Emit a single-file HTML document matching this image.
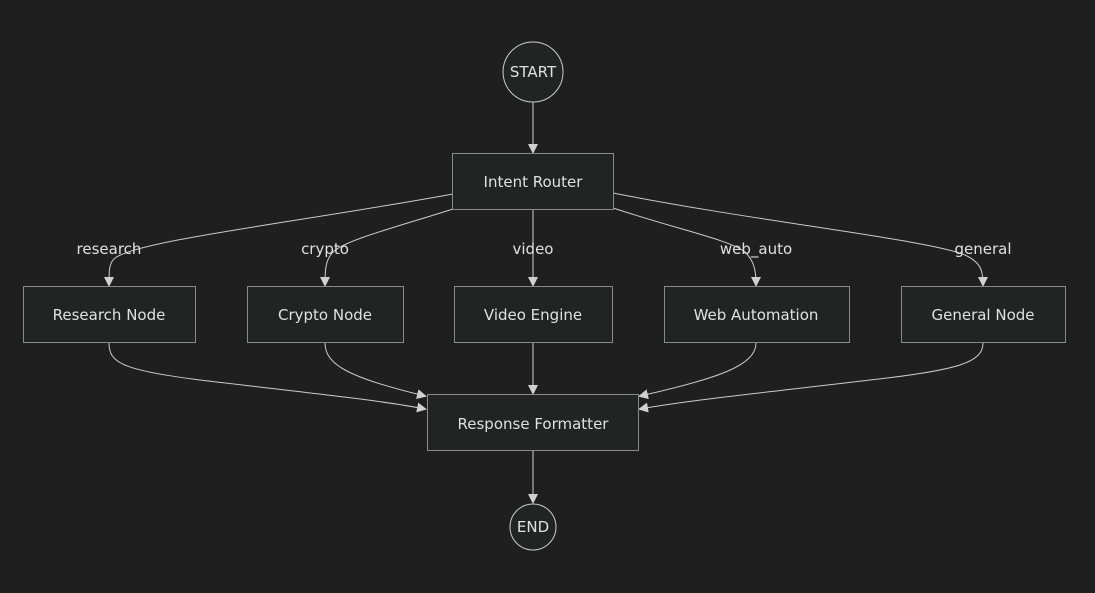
<!DOCTYPE html>
<html><head><meta charset="utf-8"><style>
html,body{margin:0;padding:0;background:#1f1f1f;}
svg{display:block;}
text{font-family:"DejaVu Sans","Liberation Sans",sans-serif;font-size:15px;fill:#e0e0e0;}
</style></head><body>
<svg width="1095" height="593" viewBox="0 0 1095 593" xmlns="http://www.w3.org/2000/svg">
<defs>
<marker id="a" markerWidth="10" markerHeight="10" refX="8" refY="5" orient="auto" markerUnits="userSpaceOnUse">
<path d="M0,0 L10,5 L0,10 z" fill="#d0d0d0"/>
</marker>
</defs>
<g fill="none" stroke="#cccccc" stroke-width="1">
<path d="M533,102 L533,152" marker-end="url(#a)"/>
<path d="M453,194 C300,222 140,240 115,258 C109,263 109,270 109,285" marker-end="url(#a)"/>
<path d="M453,209 C400,226 345,240 333,252 C325,260 325,272 325,285" marker-end="url(#a)"/>
<path d="M533,210 L533,285" marker-end="url(#a)"/>
<path d="M613,208 C680,230 730,240 745,252 C755,262 756,272 756,285" marker-end="url(#a)"/>
<path d="M613,193 C760,222 930,240 965,255 C982,263 983,272 983,285" marker-end="url(#a)"/>
<path d="M109,343 C109,362 120,370 200,380 C300,392 380,400 425,409" marker-end="url(#a)"/>
<path d="M325,343 C325,365 350,378 425,396" marker-end="url(#a)"/>
<path d="M533,343 L533,393" marker-end="url(#a)"/>
<path d="M756,343 C756,365 720,378 640,396" marker-end="url(#a)"/>
<path d="M983,343 C983,362 960,370 870,380 C770,392 690,400 640,409" marker-end="url(#a)"/>
<path d="M533,451 L533,502" marker-end="url(#a)"/>
</g>
<g fill="#222424" stroke="#8a8a8a" stroke-width="1">
<circle cx="533" cy="72" r="30" stroke="#cccccc"/>
<rect x="452.5" y="153.5" width="161" height="56"/>
<rect x="23.5" y="286.5" width="172" height="56"/>
<rect x="247.5" y="286.5" width="156" height="56"/>
<rect x="454.5" y="286.5" width="158" height="56"/>
<rect x="664.5" y="286.5" width="185" height="56"/>
<rect x="901.5" y="286.5" width="164" height="56"/>
<rect x="427.5" y="394.5" width="211" height="56"/>
<circle cx="533" cy="527" r="23" stroke="#cccccc"/>
</g>
<g text-anchor="middle">
<text x="533" y="77">START</text>
<text x="533" y="187">Intent Router</text>
<text x="109" y="320">Research Node</text>
<text x="325" y="320">Crypto Node</text>
<text x="533" y="320">Video Engine</text>
<text x="756" y="320">Web Automation</text>
<text x="983" y="320">General Node</text>
<text x="533" y="429">Response Formatter</text>
<text x="533" y="532">END</text>
<text x="109" y="254">research</text>
<text x="325" y="254">crypto</text>
<text x="533" y="254">video</text>
<text x="756" y="254">web_auto</text>
<text x="983" y="254">general</text>
</g>
</svg>
</body></html>
